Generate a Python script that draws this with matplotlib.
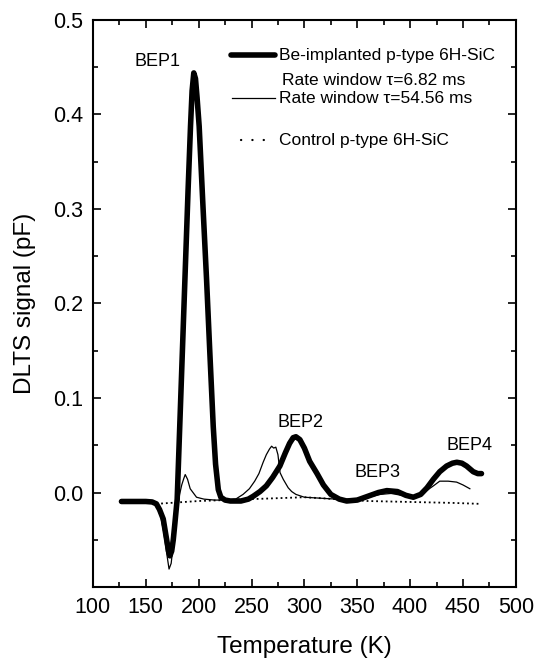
"""DLTS spectra of Be-implanted and control p-type 6H-SiC (BEP1..BEP4 traps)."""
import matplotlib
matplotlib.use("Agg")
import matplotlib.pyplot as plt
from matplotlib.ticker import MultipleLocator

plt.rcParams["font.family"] = ["Liberation Sans", "DejaVu Sans"]

# Be-implanted, rate window 6.82 ms (thick)
T_FAST = [127, 140, 150, 156, 160, 163, 166.5, 169.6, 171.5, 172.8, 174.5, 176, 177.5,
          179.7, 183, 187, 190, 192.3, 193.8, 195.4, 197, 198.5, 200.5, 204, 207.5,
          210.5, 213.8, 216, 218.6, 221, 225, 230, 240, 247, 251.6, 258, 264,
          270, 276.8, 282, 286, 289.4, 292, 295.7, 300, 305, 312, 318, 325, 333,
          340, 350, 360, 370, 378, 388, 396, 403, 410, 416, 422, 428, 434.5, 440,
          444.2, 449, 453.4, 459.7, 464, 467.5]
S_FAST = [-0.0095, -0.0095, -0.0095, -0.010, -0.012, -0.018, -0.028, -0.049, -0.062, -0.067,
          -0.062, -0.050, -0.033, -0.007, 0.098, 0.225, 0.320, 0.3875, 0.425, 0.444,
          0.438, 0.418, 0.3875, 0.305, 0.225, 0.150, 0.070, 0.030, 0.003, -0.005,
          -0.008, -0.009, -0.009, -0.007, -0.004, 0.001, 0.007, 0.016,
          0.028, 0.042, 0.052, 0.058, 0.059, 0.056, 0.047, 0.033, 0.020, 0.008,
          -0.002, -0.007, -0.009, -0.008, -0.004, 0.000, 0.002, 0.001, -0.003, -0.005,
          -0.002, 0.005, 0.014, 0.022, 0.028, 0.031, 0.032, 0.031, 0.028, 0.022,
          0.020, 0.020]

# Be-implanted, rate window 54.56 ms (thin)
T_SLOW = [130, 145, 155, 160, 164, 167, 170, 172, 174, 176, 178, 180, 182, 184, 186,
          187.3, 189.5, 192, 198, 205, 215, 225, 235, 242, 248, 253, 257, 261,
          264, 267, 269, 271, 273, 275, 277, 280, 284.7, 288, 292, 300, 315, 330,
          345, 360, 372, 382, 392, 402, 410, 415.6, 422, 428, 436, 444, 450, 456.5]
S_SLOW = [-0.009, -0.009, -0.010, -0.014, -0.025, -0.042, -0.066, -0.081, -0.075, -0.055,
          -0.035, -0.018, -0.002, 0.008, 0.015, 0.019, 0.014, 0.004, -0.005, -0.007,
          -0.008, -0.008, -0.007, -0.002, 0.004, 0.012, 0.020, 0.032, 0.040, 0.046,
          0.049, 0.047, 0.048, 0.040, 0.021, 0.014, 0.005, 0.001, -0.002, -0.005,
          -0.006, -0.007, -0.007, -0.005, -0.002, -0.001, -0.003, -0.004, -0.002, 0.002,
          0.007, 0.012, 0.012, 0.011, 0.008, 0.004]

# control p-type 6H-SiC (dotted)
T_CTRL = [160, 200, 250, 300, 330, 360, 400, 440, 466]
S_CTRL = [-0.012, -0.009, -0.007, -0.005, -0.007, -0.009, -0.010, -0.011, -0.012]

PEAKS = ["BEP1", "BEP2", "BEP3", "BEP4"]
PEAK_T = [161.5, 296, 369, 456.5]
PEAK_S = [0.456, 0.074, 0.0215, 0.050]

fig = plt.figure(figsize=(5.34, 6.66), dpi=100)
ax = fig.add_axes([0.174, 0.1186, 0.792, 0.8514])

ax.plot(T_CTRL, S_CTRL, color="black", lw=1.3, ls=":")
ax.plot(T_SLOW, S_SLOW, color="black", lw=0.9)
ax.plot(T_FAST, S_FAST, color="black", lw=4.0, solid_capstyle="round",
        solid_joinstyle="round")

for name, t, s in zip(PEAKS, PEAK_T, PEAK_S):
    ax.text(t, s, name, fontsize=13, ha="center", va="center")

# hand-drawn legend, as in the original figure
kw = dict(transform=ax.transAxes, color="black")
ax.plot([0.326, 0.430], [0.938, 0.938], lw=4.0, solid_capstyle="round", **kw)
ax.plot([0.330, 0.430], [0.862, 0.862], lw=0.9, **kw)
ax.plot([0.350, 0.426], [0.788, 0.788], lw=1.6, ls=(0, (0.1, 5)),
        dash_capstyle="round", **kw)
tk = dict(transform=ax.transAxes, fontsize=12.5, va="center", ha="left")
ax.text(0.440, 0.938, "Be-implanted p-type 6H-SiC", **tk)
ax.text(0.447, 0.894, "Rate window \u03c4=6.82 ms", **tk)
ax.text(0.440, 0.862, "Rate window \u03c4=54.56 ms", **tk)
ax.text(0.440, 0.788, "Control p-type 6H-SiC", **tk)

ax.set_xlim(100, 500)
ax.set_ylim(-0.1, 0.5)
ax.xaxis.set_major_locator(MultipleLocator(50))
ax.xaxis.set_minor_locator(MultipleLocator(25))
ax.yaxis.set_major_locator(MultipleLocator(0.1))
ax.yaxis.set_minor_locator(MultipleLocator(0.05))
ax.set_yticks([0.0, 0.1, 0.2, 0.3, 0.4, 0.5])
ax.tick_params(which="both", direction="in", top=True, right=True, width=1.2,
               labelsize=15.5, pad=7)
ax.tick_params(which="major", length=6)
ax.tick_params(which="minor", length=3.5)
for sp in ax.spines.values():
    sp.set_linewidth(1.5)

ax.set_xlabel("Temperature (K)", fontsize=17.5, labelpad=13)
ax.set_ylabel("DLTS signal (pF)", fontsize=17.5, labelpad=12)

fig.savefig("out.png", dpi=100)
